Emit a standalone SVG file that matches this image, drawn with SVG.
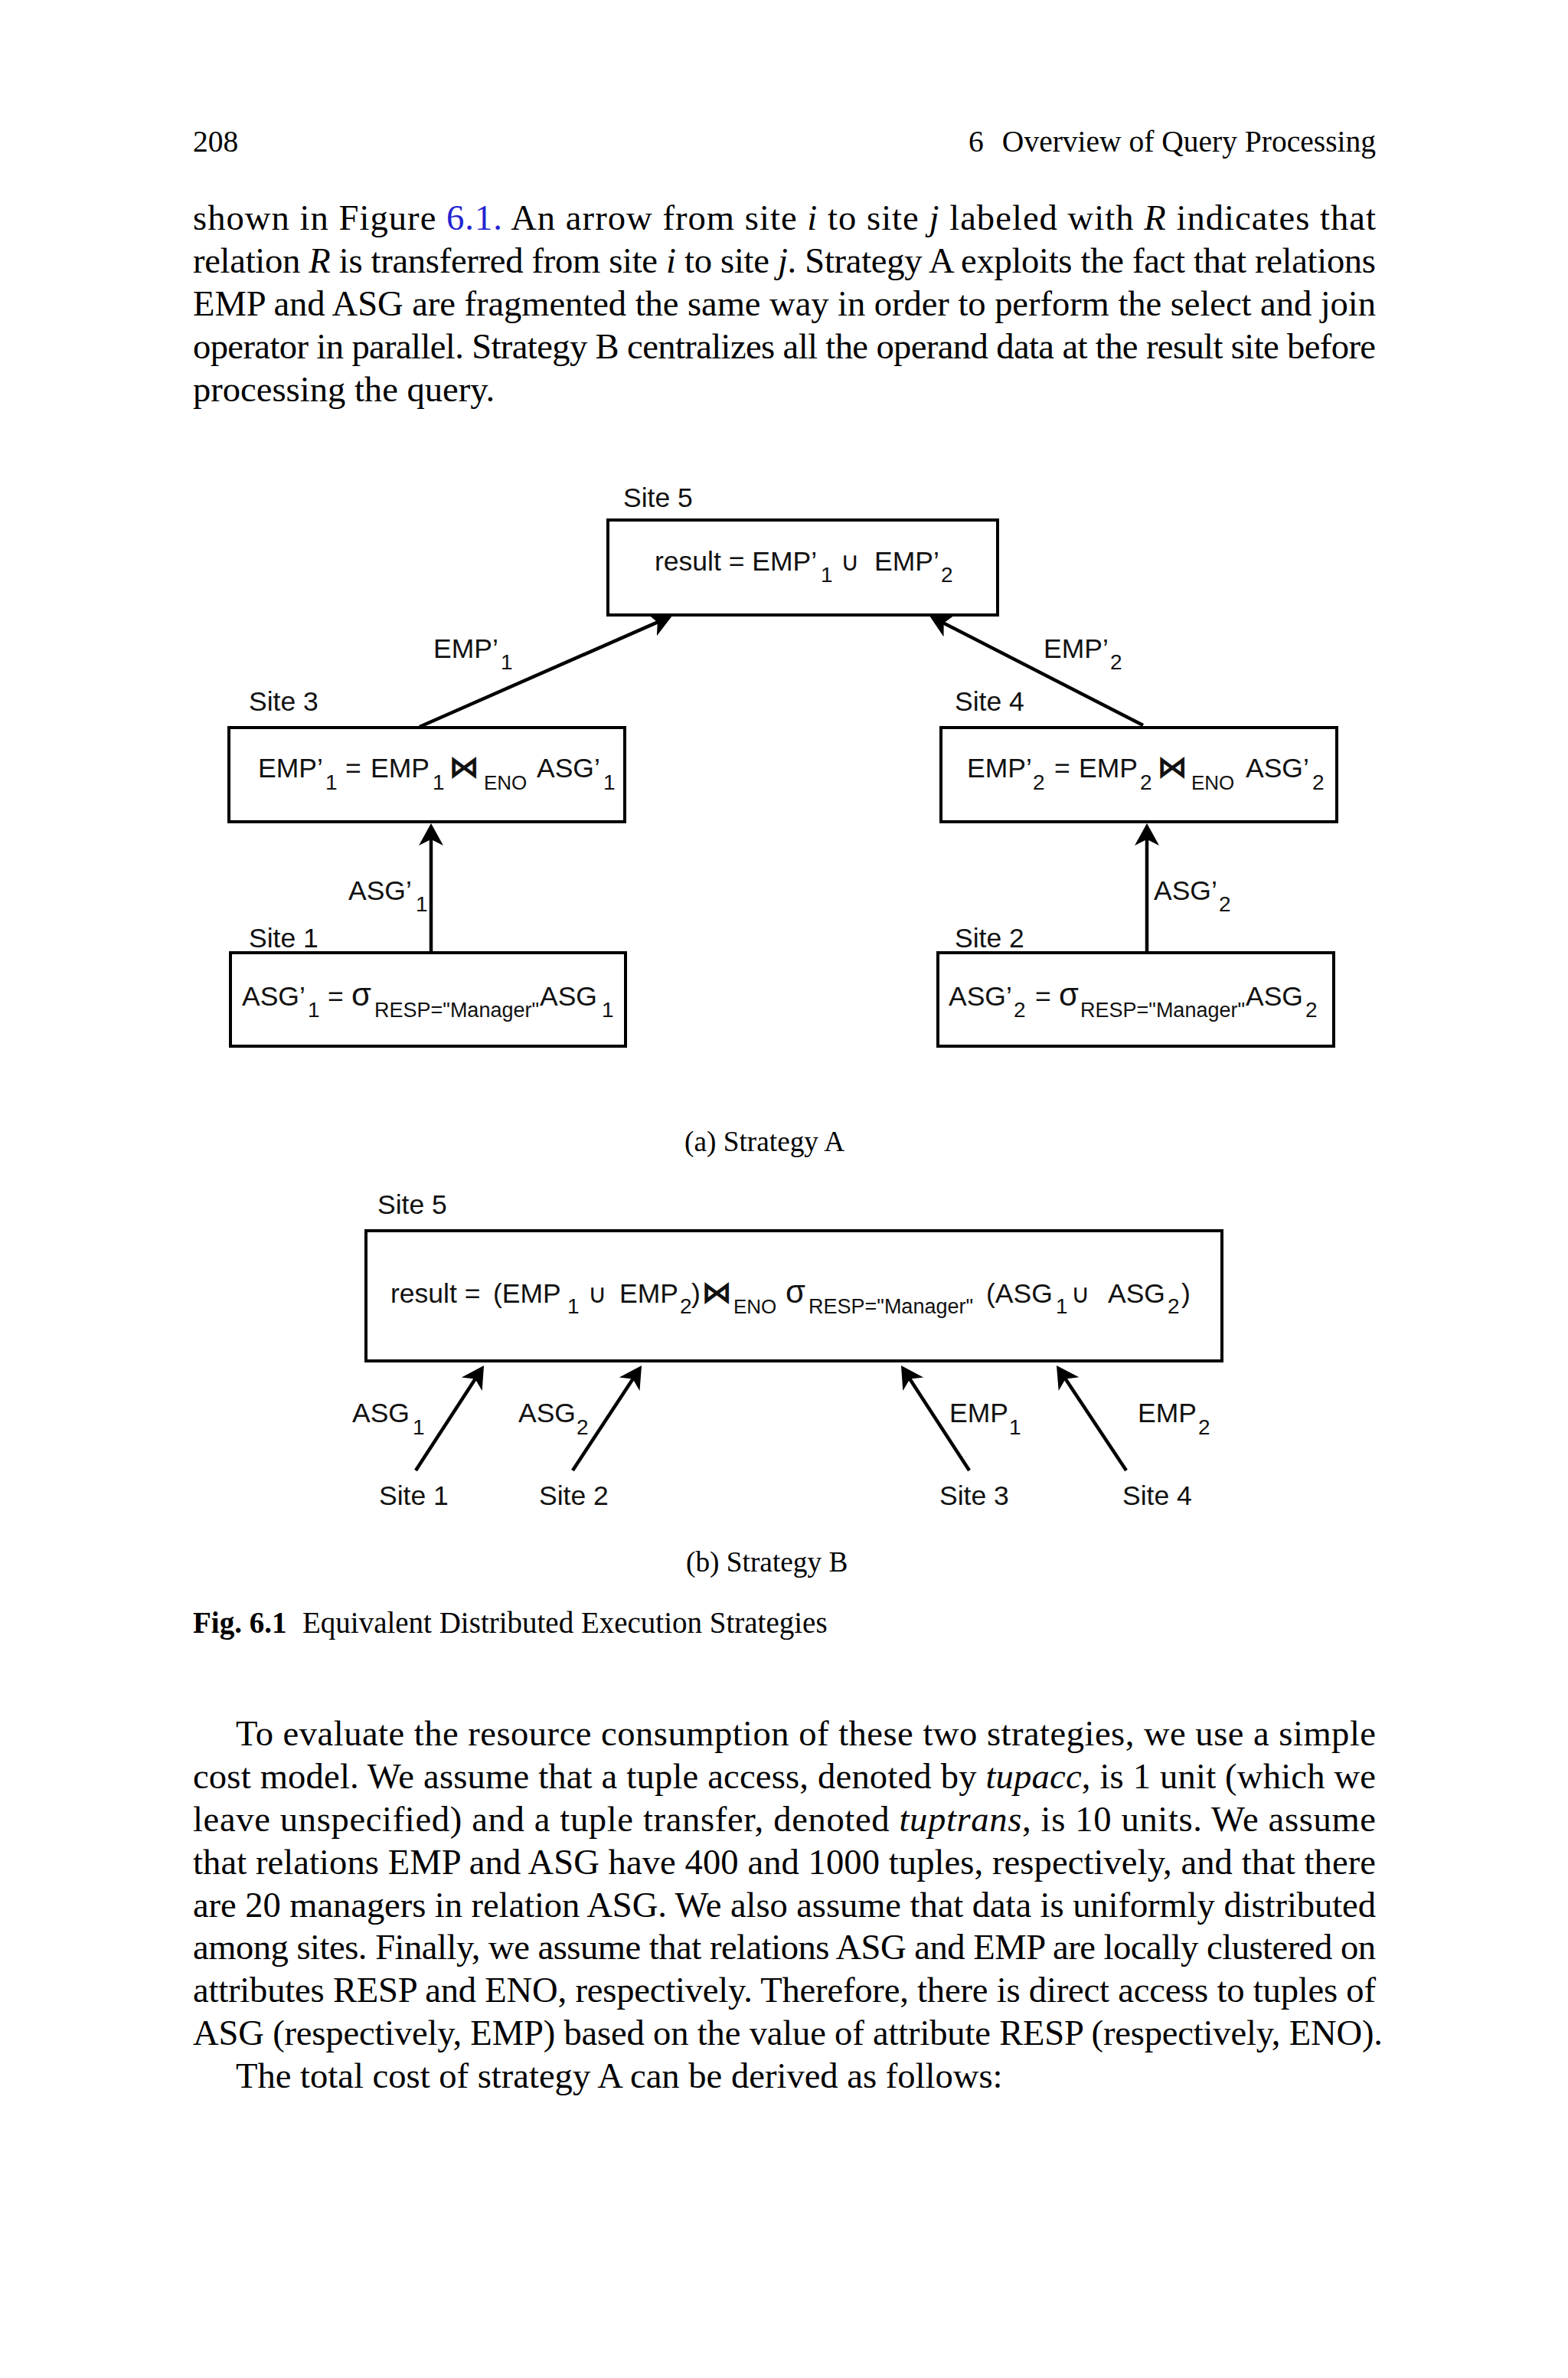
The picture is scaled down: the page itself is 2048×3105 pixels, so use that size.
<svg xmlns="http://www.w3.org/2000/svg" width="2048" height="3105" viewBox="0 0 2048 3105">
<defs>
<style>
.pg{font-family:"Liberation Serif","Times New Roman",serif;fill:#000}
.hd{font-size:39.5px}
.bd{font-size:46.6px}
.cap{font-size:37.3px}
.fc{font-size:39px}
.it{font-style:italic}
.ref{fill:#2323d2}
.d{font-family:"Liberation Sans",Arial,"DejaVu Sans",sans-serif;font-size:35.5px;fill:#111}
.s{font-size:28px}
.se{font-size:26px}
.sr{font-size:27px}
.op{font-family:"DejaVu Sans",sans-serif;font-size:34px}
.bt{font-family:"DejaVu Sans",sans-serif;font-size:40px;font-weight:bold}
.sg{font-size:42px}
.box{fill:#fff;stroke:#000;stroke-width:4}
.edge{fill:none;stroke:#000;stroke-width:4.5;marker-end:url(#ah)}
</style>
<marker id="ah" markerUnits="userSpaceOnUse" markerWidth="30" markerHeight="34" viewBox="0 -17 30 34" refX="10" refY="0" orient="auto"><path d="M0,-16 L29,0 L0,16 L8,0 Z" fill="#000"/></marker>
</defs>
<rect x="0" y="0" width="2048" height="3105" fill="#fff"/>

<g id="page-header" class="pg hd">
<text x="252" y="198">208</text>
<text x="1265" y="198">6</text>
<text x="1797" y="198" text-anchor="end">Overview of Query Processing</text>
</g>

<g id="para1" class="pg bd">
<text x="252" y="300" textLength="1545" lengthAdjust="spacing">shown in Figure <tspan class="ref">6.1.</tspan> An arrow from site <tspan class="it">i</tspan> to site <tspan class="it">j</tspan> labeled with <tspan class="it">R</tspan> indicates that</text>
<text x="252" y="356" textLength="1545" lengthAdjust="spacing">relation <tspan class="it">R</tspan> is transferred from site <tspan class="it">i</tspan> to site <tspan class="it">j</tspan>. Strategy A exploits the fact that relations</text>
<text x="252" y="412" textLength="1545" lengthAdjust="spacing">EMP and ASG are fragmented the same way in order to perform the select and join</text>
<text x="252" y="468" textLength="1545" lengthAdjust="spacing">operator in parallel. Strategy B centralizes all the operand data at the result site before</text>
<text x="252" y="524">processing the query.</text>
</g>

<!-- Strategy A -->
<g id="a-site5">
<rect class="box" x="794" y="679" width="509" height="124"/>
<text class="d" x="814" y="662">Site 5</text>
<text class="d"><tspan x="855" y="745">result = EMP’</tspan><tspan class="s" x="1072" y="760">1</tspan><tspan class="op" x="1098" y="745">∪</tspan><tspan x="1142" y="745">EMP’</tspan><tspan class="s" x="1229" y="760">2</tspan></text>
</g>

<g id="a-site3">
<rect class="box" x="299" y="950" width="517" height="123"/>
<text class="d" x="325" y="928">Site 3</text>
<text class="d"><tspan x="337" y="1015">EMP’</tspan><tspan class="s" x="425" y="1031">1</tspan><tspan x="451" y="1015">=</tspan><tspan x="484" y="1015">EMP</tspan><tspan class="s" x="565" y="1031">1</tspan><tspan class="bt" x="586" y="1015">⋈</tspan><tspan class="se" x="632" y="1031">ENO</tspan><tspan x="701" y="1015">ASG’</tspan><tspan class="s" x="788" y="1031">1</tspan></text>
</g>

<g id="a-site4">
<rect class="box" x="1229" y="950" width="517" height="123"/>
<text class="d" x="1247" y="928">Site 4</text>
<text class="d"><tspan x="1263" y="1015">EMP’</tspan><tspan class="s" x="1349" y="1031">2</tspan><tspan x="1377" y="1015">=</tspan><tspan x="1409" y="1015">EMP</tspan><tspan class="s" x="1489" y="1031">2</tspan><tspan class="bt" x="1511" y="1015">⋈</tspan><tspan class="se" x="1556" y="1031">ENO</tspan><tspan x="1627" y="1015">ASG’</tspan><tspan class="s" x="1714" y="1031">2</tspan></text>
</g>

<g id="a-site1">
<rect class="box" x="301" y="1244" width="516" height="122"/>
<text class="d" x="325" y="1237">Site 1</text>
<text class="d"><tspan x="316" y="1313">ASG’</tspan><tspan class="s" x="402" y="1328">1</tspan><tspan x="428" y="1313">=</tspan><tspan class="sg" x="459" y="1313">σ</tspan><tspan class="sr" x="489" y="1328">RESP="Manager"</tspan><tspan x="705" y="1313">ASG</tspan><tspan class="s" x="786" y="1328">1</tspan></text>
</g>

<g id="a-site2">
<rect class="box" x="1225" y="1244" width="517" height="122"/>
<text class="d" x="1247" y="1237">Site 2</text>
<text class="d"><tspan x="1239" y="1313">ASG’</tspan><tspan class="s" x="1324" y="1328">2</tspan><tspan x="1352" y="1313">=</tspan><tspan class="sg" x="1383" y="1313">σ</tspan><tspan class="sr" x="1411" y="1328">RESP="Manager"</tspan><tspan x="1627" y="1313">ASG</tspan><tspan class="s" x="1705" y="1328">2</tspan></text>
</g>

<g id="a-connectors">
<line class="edge" x1="563" y1="1244" x2="563" y2="1094"/>
<line class="edge" x1="1498" y1="1244" x2="1498" y2="1094"/>
<line class="edge" x1="548" y1="949" x2="860.6" y2="811.6"/>
<line class="edge" x1="1493" y1="947" x2="1230.9" y2="812.7"/>
<text class="d"><tspan x="455" y="1175">ASG’</tspan><tspan class="s" x="543" y="1190">1</tspan></text>
<text class="d"><tspan x="1507" y="1175">ASG’</tspan><tspan class="s" x="1592" y="1190">2</tspan></text>
<text class="d"><tspan x="566" y="859">EMP’</tspan><tspan class="s" x="654" y="874">1</tspan></text>
<text class="d"><tspan x="1363" y="859">EMP’</tspan><tspan class="s" x="1450" y="874">2</tspan></text>
</g>

<text class="pg cap" x="894" y="1503">(a) Strategy A</text>

<!-- Strategy B -->
<g id="b-site5">
<rect class="box" x="478" y="1607" width="1118" height="170"/>
<text class="d" x="493" y="1585">Site 5</text>
<text class="d"><tspan x="510" y="1701">result =</tspan><tspan x="644" y="1701">(EMP</tspan><tspan class="s" x="741" y="1715">1</tspan><tspan class="op" x="768" y="1701">∪</tspan><tspan x="809" y="1701">EMP</tspan><tspan class="s" x="888" y="1715">2</tspan><tspan x="903" y="1701">)</tspan><tspan class="bt" x="916" y="1701">⋈</tspan><tspan class="se" x="958" y="1715">ENO</tspan><tspan class="sg" x="1026" y="1701">σ</tspan><tspan class="sr" x="1056" y="1715">RESP="Manager"</tspan><tspan x="1288" y="1701">(ASG</tspan><tspan class="s" x="1379" y="1715">1</tspan><tspan class="op" x="1399" y="1701">∪</tspan><tspan x="1447" y="1701">ASG</tspan><tspan class="s" x="1525" y="1715">2</tspan><tspan x="1543" y="1701">)</tspan></text>
</g>
<g id="b-site1"><text class="d" x="495" y="1965">Site 1</text></g>
<g id="b-site2"><text class="d" x="704" y="1965">Site 2</text></g>
<g id="b-site3"><text class="d" x="1227" y="1965">Site 3</text></g>
<g id="b-site4"><text class="d" x="1466" y="1965">Site 4</text></g>

<g id="b-connectors">
<line class="edge" x1="543" y1="1920" x2="621.7" y2="1798.9"/>
<line class="edge" x1="748" y1="1920" x2="827.6" y2="1798.9"/>
<line class="edge" x1="1266" y1="1920" x2="1187.3" y2="1798.9"/>
<line class="edge" x1="1471" y1="1920" x2="1390.5" y2="1798.8"/>
<text class="d"><tspan x="460" y="1857">ASG</tspan><tspan class="s" x="539" y="1873">1</tspan></text>
<text class="d"><tspan x="677" y="1857">ASG</tspan><tspan class="s" x="753" y="1873">2</tspan></text>
<text class="d"><tspan x="1240" y="1857">EMP</tspan><tspan class="s" x="1318" y="1873">1</tspan></text>
<text class="d"><tspan x="1486" y="1857">EMP</tspan><tspan class="s" x="1565" y="1873">2</tspan></text>
</g>

<text class="pg cap" x="896" y="2052">(b) Strategy B</text>
<text class="pg fc" x="252" y="2132"><tspan font-weight="bold">Fig. 6.1</tspan><tspan x="395">Equivalent Distributed Execution Strategies</tspan></text>

<g id="para2" class="pg bd">
<text x="308" y="2279" textLength="1489" lengthAdjust="spacing">To evaluate the resource consumption of these two strategies, we use a simple</text>
<text x="252" y="2335" textLength="1545" lengthAdjust="spacing">cost model. We assume that a tuple access, denoted by <tspan class="it">tupacc</tspan>, is 1 unit (which we</text>
<text x="252" y="2391" textLength="1545" lengthAdjust="spacing">leave unspecified) and a tuple transfer, denoted <tspan class="it">tuptrans</tspan>, is 10 units. We assume</text>
<text x="252" y="2447" textLength="1545" lengthAdjust="spacing">that relations EMP and ASG have 400 and 1000 tuples, respectively, and that there</text>
<text x="252" y="2503" textLength="1545" lengthAdjust="spacing">are 20 managers in relation ASG. We also assume that data is uniformly distributed</text>
<text x="252" y="2558" textLength="1545" lengthAdjust="spacing">among sites. Finally, we assume that relations ASG and EMP are locally clustered on</text>
<text x="252" y="2614" textLength="1545" lengthAdjust="spacing">attributes RESP and ENO, respectively. Therefore, there is direct access to tuples of</text>
<text x="252" y="2670" textLength="1554" lengthAdjust="spacing">ASG (respectively, EMP) based on the value of attribute RESP (respectively, ENO).</text>
<text x="308" y="2726">The total cost of strategy A can be derived as follows:</text>
</g>
</svg>
